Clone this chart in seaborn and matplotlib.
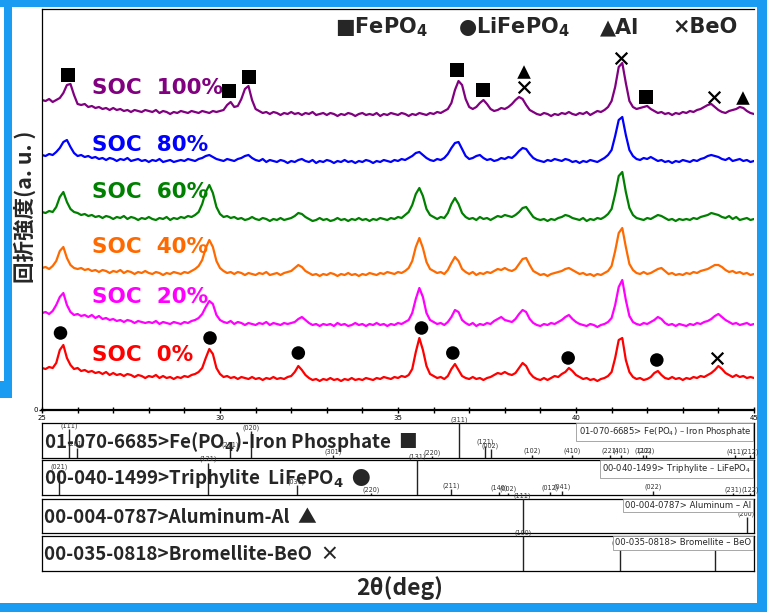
import numpy as np
import pandas as pd
import seaborn as sns
import matplotlib.pyplot as plt
from matplotlib.patches import Rectangle
from matplotlib.ticker import MultipleLocator

# ---- measured XRD patterns (2theta grid 25..45 deg, step 0.1) ----
tt_start, tt_step, n_pts = 25.0, 0.1, 201
two_theta = np.round(tt_start + tt_step * np.arange(n_pts), 1)

soc0 = [42,41,43,42,47,60,65,52,45,41, 42,39,40,38,39,37,38,36,38,35,
        37,35,36,34,36,35,33,35,34,32, 34,33,35,32,34,32,33,31,33,32,
        34,33,35,36,38,42,52,61,56,42, 36,33,34,32,33,31,33,32,31,33,
        31,32,30,32,31,33,31,32,31,33, 34,38,44,40,35,32,30,31,29,31,
        30,32,30,31,29,31,30,32,30,31, 30,32,31,30,32,31,33,32,31,33,
        32,34,33,35,41,58,72,60,44,36, 34,32,33,31,34,41,46,40,34,32,
        31,33,31,32,30,32,33,35,37,36, 38,36,35,37,42,47,44,37,33,31,
        30,32,30,32,34,33,36,38,42,39, 35,33,31,32,30,31,29,31,32,34,
        38,52,70,72,50,38,33,31,32,30, 31,33,37,39,35,32,31,33,31,32,
        30,32,31,33,32,34,33,35,37,40, 44,41,37,35,33,35,33,34,32,33, 32]
soc20 = [42,43,41,44,50,58,62,50,43,40, 41,39,40,38,40,37,39,36,37,35,
         36,34,35,33,35,34,32,34,33,32, 33,32,34,31,33,32,31,33,32,31,
         33,32,34,35,37,41,48,54,51,40, 35,33,32,34,31,33,32,30,32,31,
         30,32,31,33,30,32,31,30,32,31, 32,33,36,38,35,32,30,31,29,31,
         30,31,29,32,30,31,29,30,32,30, 31,29,31,30,32,30,31,29,31,30,
         32,31,33,35,42,56,67,58,42,35, 33,31,32,30,33,38,45,43,35,32,
         30,32,29,31,30,32,31,34,36,38, 35,34,33,36,41,45,43,36,32,30,
         29,31,30,32,31,33,35,38,40,36, 33,31,30,29,31,30,28,30,31,33,
         37,50,68,75,55,39,33,31,30,32, 31,33,35,38,36,32,30,31,29,31,
         30,29,31,30,32,31,33,34,36,39, 41,38,35,33,31,32,30,31,32,30, 31]
soc40 = [37,38,36,39,44,54,58,47,40,37, 36,37,35,36,34,35,33,35,34,32,
         34,33,35,32,34,33,31,33,32,34, 32,31,33,32,30,32,31,33,32,31,
         33,32,34,36,39,45,57,65,58,44, 37,34,32,33,31,33,32,30,32,31,
         30,32,31,33,30,31,32,30,32,33, 34,37,40,38,34,32,30,31,29,31,
         30,32,31,29,31,30,32,30,31,29, 31,30,32,31,30,32,31,33,32,31,
         33,32,34,37,44,58,67,57,43,36, 34,32,33,31,35,42,48,44,36,33,
         31,33,30,32,31,33,32,34,36,35, 37,35,34,36,41,46,47,40,34,32,
         30,31,29,31,32,33,34,36,37,35, 33,31,32,30,31,29,31,30,32,34,
         39,54,72,77,58,41,35,32,31,33, 31,32,34,36,37,34,31,32,30,31,
         30,32,31,33,32,34,35,36,38,40, 40,38,35,33,34,32,33,31,32,30, 31]
soc60 = [38,37,39,38,43,53,58,48,41,38, 37,35,36,34,35,33,34,32,34,33,
         31,33,32,34,31,33,32,30,32,31, 33,31,30,32,31,33,30,32,31,33,
         32,34,33,35,38,46,58,65,57,43, 36,33,34,32,33,31,32,30,31,33,
         31,30,32,31,29,31,30,32,30,31, 32,34,37,36,33,31,29,30,32,30,
         31,29,30,32,30,31,29,31,30,32, 30,31,29,31,30,32,31,30,32,31,
         33,32,35,38,45,56,62,54,41,35, 33,31,33,32,37,46,52,46,37,33,
         31,32,30,33,31,32,30,32,34,33, 35,34,33,35,38,42,43,38,33,31,
         30,31,29,31,30,32,33,35,34,32, 31,30,32,29,31,30,32,31,33,36,
         41,56,74,78,58,42,35,32,31,30, 32,31,33,35,34,32,30,31,29,31,
         30,31,30,32,31,33,34,35,37,36, 35,33,32,34,31,33,30,31,32,30, 31]
soc80 = [37,36,38,37,40,44,50,52,45,39, 36,37,35,36,34,35,33,34,32,34,
         33,31,33,32,34,31,32,33,31,32, 30,32,31,33,30,31,32,30,31,32,
         31,33,32,31,33,34,36,37,35,33, 32,31,33,32,31,33,34,36,37,34,
         32,31,33,30,32,31,30,32,31,29, 31,30,32,33,31,30,32,29,31,30,
         32,31,29,31,30,32,30,31,29,31, 30,32,31,29,31,30,32,31,30,32,
         31,33,32,34,36,39,40,37,34,32, 31,33,32,34,38,44,49,50,43,36,
         33,34,36,37,34,32,33,31,32,34, 33,35,34,37,41,44,43,38,34,32,
         31,30,32,31,33,32,31,33,32,30, 31,29,31,30,32,31,30,32,34,37,
         42,56,72,75,57,42,36,33,32,34, 33,35,33,31,32,30,31,29,31,30,
         32,31,30,32,31,33,34,36,37,36, 35,33,32,34,31,32,33,31,32,30, 31]
soc100 = [45,44,46,43,45,47,52,60,61,50, 41,40,41,38,39,37,38,36,37,35,
          37,35,36,34,35,33,35,34,33,35, 34,33,35,32,34,33,31,33,32,34,
          33,32,34,33,32,34,33,32,34,33, 34,35,40,43,38,39,46,56,59,45,
          36,34,32,33,31,33,32,30,32,31, 33,31,32,30,32,31,33,30,31,32,
          30,32,31,29,31,30,32,31,29,31, 32,30,31,30,32,29,31,30,32,31,
          30,32,31,29,31,30,32,31,30,32, 31,33,32,34,36,42,55,64,60,46,
          38,36,38,42,45,41,36,34,35,37, 36,38,41,45,48,46,40,35,33,31,
          30,32,31,29,31,30,32,31,33,31, 30,32,31,33,30,32,34,33,35,38,
          44,58,78,82,62,44,38,36,37,38, 39,36,34,32,33,31,32,30,32,31,
          33,32,34,33,35,36,38,40,41,38, 35,33,32,34,35,36,38,37,34,32, 31]

soc_labels = ["SOC  0%", "SOC  20%", "SOC  40%", "SOC  60%", "SOC  80%", "SOC  100%"]
soc_colors = ["#ff0000", "#ff00ff", "#ff6a00", "#008000", "#0000ff", "#800080"]
soc_offsets = [0, 55, 105, 160, 218, 265]
soc_label_y = [55, 113, 163, 218, 265, 322]

# peak assignment marks (2theta, height on the stacked scale)
fepo4_tt = [25.73, 30.25, 30.81, 36.66, 37.39, 41.97]
fepo4_y = [335, 319, 333, 340, 320, 313]
lifepo4_tt = [25.52, 29.72, 32.20, 35.66, 36.54, 39.78, 42.27]
lifepo4_y = [77, 72, 57, 82, 57, 52, 50]
al_tt = [38.54, 44.69]
al_y = [338, 312]
beo_tt = [38.54, 41.26, 43.88, 43.97]
beo_y = [323, 352, 313, 52]

# reference cards (stick patterns)
fe_card_tt = [25.77, 25.97, 30.28, 30.86, 33.17, 35.95, 36.71, 37.44, 37.60,
              38.76, 39.90, 40.96, 41.26, 41.88, 41.98, 44.47, 44.89]
fe_card_int = [0.83, 0.29, 0.26, 0.76, 0.08, 0.05, 1.0, 0.35, 0.25,
               0.10, 0.10, 0.10, 0.10, 0.10, 0.10, 0.08, 0.08]
fe_card_hkl = ["(111)", "(201)", "(211)", "(020)", "(301)", "(220)", "(311)", "(121)", "(002)",
               "(102)", "(410)", "(221)", "(401)", "(112)", "(202)", "(411)", "(212)"]
lfp_card_tt = [25.49, 29.67, 32.15, 34.25, 35.54, 36.48, 37.84, 38.10, 39.27, 39.62, 42.17, 44.42, 44.89]
lfp_card_int = [0.70, 0.92, 0.28, 0.05, 1.0, 0.17, 0.10, 0.06, 0.10, 0.12, 0.12, 0.05, 0.05]
lfp_card_hkl = ["(021)", "(121)", "(031)", "(220)", "(131)", "(211)", "(140)", "(002)",
                "(012)", "(041)", "(022)", "(231)", "(122)"]
al_card_tt = [38.50, 44.79]
al_card_int = [1.0, 0.47]
al_card_hkl = ["(111)", "(200)"]
beo_card_tt = [38.50, 41.24, 43.90]
beo_card_int = [1.0, 0.70, 0.80]
beo_card_hkl = ["(100)", "(002)", "(101)"]

card_titles = ["01-070-6685>Fe(PO$_\\mathbf{4}$)-Iron Phosphate  ■",
               "00-040-1499>Triphylite  LiFePO$_\\mathbf{4}$  ●",
               "00-004-0787>Aluminum-Al  ▲",
               "00-035-0818>Bromellite-BeO  ×"]
card_notes = ["01-070-6685> Fe(PO$_4$) – Iron Phosphate",
              "00-040-1499> Triphylite – LiFePO$_4$",
              "00-004-0787> Aluminum – Al",
              "00-035-0818> Bromellite – BeO"]

sns.set_theme(style="white")
plt.rcParams["font.family"] = ["DejaVu Sans", "Noto Sans CJK JP"]

W, H = 767, 612
fig = plt.figure(figsize=(W / 100, H / 100), dpi=100)
fig.patch.set_facecolor("white")


def px_box(x0, y0, x1, y1):
    return [x0 / W, 1 - y1 / H, (x1 - x0) / W, (y1 - y0) / H]


# slide frame
frame_blue = "#1a9cf2"
for x0, y0, x1, y1 in [(0, 0, 767, 7), (4, 0, 12, 398), (0, 381, 12, 398),
                       (757, 0, 767, 612), (0, 603, 767, 612)]:
    l, b, w, h = px_box(x0, y0, x1, y1)
    fig.add_artist(Rectangle((l, b), w, h, transform=fig.transFigure,
                             color=frame_blue, lw=0, zorder=0))

# ---- main stacked pattern ----
ax = fig.add_axes(px_box(42, 9, 754, 410))
frames = []
for lab, vals, off in zip(soc_labels, [soc0, soc20, soc40, soc60, soc80, soc100], soc_offsets):
    frames.append(pd.DataFrame({"two_theta": two_theta,
                                "counts": np.array(vals) + off,
                                "sample": lab}))
df = pd.concat(frames, ignore_index=True)
sns.lineplot(data=df, x="two_theta", y="counts", hue="sample",
             palette=dict(zip(soc_labels, soc_colors)), estimator=None,
             linewidth=1.6, legend=False, ax=ax)

for lab, col, ly in zip(soc_labels, soc_colors, soc_label_y):
    ax.text(26.4, ly, lab, color=col, fontsize=15.5, fontweight="bold", va="center")

sns.scatterplot(x=fepo4_tt, y=fepo4_y, marker="s", s=105, color="black",
                edgecolor="none", ax=ax, zorder=5)
sns.scatterplot(x=lifepo4_tt, y=lifepo4_y, marker="o", s=95, color="black",
                edgecolor="none", ax=ax, zorder=5)
sns.scatterplot(x=al_tt, y=al_y, marker="^", s=95, color="black",
                edgecolor="none", ax=ax, zorder=5)
sns.scatterplot(x=beo_tt, y=beo_y, marker="x", s=70, color="black",
                linewidth=1.6, ax=ax, zorder=5)

# phase key
for kx, ktxt in [(33.23, "■FePO$_\\mathbf{4}$"), (36.69, "●LiFePO$_\\mathbf{4}$"),
                 (40.67, "▲Al"), (42.72, "×BeO")]:
    ax.text(kx, 383, ktxt, fontsize=15, fontweight="bold", va="center", ha="left")

ax.set_xlim(25, 45)
ax.set_ylim(0, 401)
ax.xaxis.set_major_locator(MultipleLocator(5))
ax.xaxis.set_minor_locator(MultipleLocator(1))
ax.set_yticks([0])
ax.tick_params(axis="both", which="both", direction="inout", length=5, width=1,
               labelsize=5, pad=1, colors="black")
ax.tick_params(axis="x", which="both", bottom=True)
ax.tick_params(axis="y", left=True, length=4)
ax.set_xlabel("")
ax.set_ylabel("")
ax.spines["right"].set_visible(False)
ax.spines["bottom"].set_linewidth(1.6)
for s in ["left", "top", "bottom"]:
    ax.spines[s].set_color("black")
ax.spines["left"].set_linewidth(0.9)
ax.spines["top"].set_linewidth(0.9)

# ---- reference card panels ----
cards = [(fe_card_tt, fe_card_int, fe_card_hkl),
         (lfp_card_tt, lfp_card_int, lfp_card_hkl),
         (al_card_tt, al_card_int, al_card_hkl),
         (beo_card_tt, beo_card_int, beo_card_hkl)]
panel_px = [(42, 423, 754, 458), (42, 460, 754, 495), (42, 499, 754, 533), (42, 536, 754, 571)]

for (ctt, cint, chkl), box, title, note in zip(cards, panel_px, card_titles, card_notes):
    pax = fig.add_axes(px_box(*box))
    pax.set_xlim(25, 45)
    pax.set_ylim(0, 1)
    pax.set_xticks([])
    pax.set_yticks([])
    for s in pax.spines.values():
        s.set_color("black")
        s.set_linewidth(0.9)
    pax.vlines(ctt, 0, cint, color="#222222", lw=1.0, zorder=4)
    for t, h, lab in zip(ctt, cint, chkl):
        pax.annotate(lab, (t, h), xytext=(0, 0.3), textcoords="offset points",
                     ha="center", va="bottom", fontsize=4.7, color="#333333",
                     annotation_clip=False, zorder=5)
    pax.text(0.003, 0.47, title, transform=pax.transAxes, fontsize=13.5,
             fontweight="bold", va="center", ha="left",
             family=["Noto Sans CJK JP", "DejaVu Sans"], zorder=3)
    pax.text(0.996, 0.93, note, transform=pax.transAxes, fontsize=6.1,
             va="top", ha="right", zorder=6,
             bbox=dict(boxstyle="square,pad=0.25", fc="white", ec="#999999", lw=0.6))

fig.text(25 / W, 1 - 207 / H, "回折強度(a. u. )", rotation=90, fontsize=15.5,
         fontweight="bold", va="center", ha="center",
         family=["Noto Sans CJK JP", "DejaVu Sans"])
fig.text(400 / W, 1 - 588 / H, "2θ(deg)", fontsize=16.5, fontweight="bold",
         va="center", ha="center", family=["Noto Sans CJK JP", "DejaVu Sans"])

fig.savefig("out.png", dpi=100)
